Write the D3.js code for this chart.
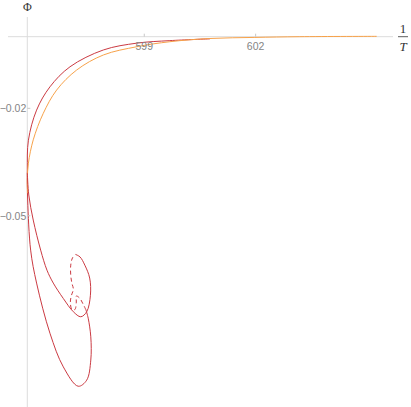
<!DOCTYPE html>
<html>
<head>
<meta charset="utf-8">
<script src="https://cdn.jsdelivr.net/npm/d3@7"></script>
<style>
  body { margin: 0; background: #fff; }
  svg { display: block; }
</style>
</head>
<body>
<script>
var width = 411;
var height = 407;

// data: [1/T, Phi]
var orangeCurve = [
  [605.26, 0.0001], [603.19, 0.0000], [601.98, -0.0002], [600.77, -0.0005],
  [599.69, -0.0014], [598.80, -0.0028], [597.90, -0.0051], [597.18, -0.0093],
  [596.64, -0.0149], [596.28, -0.0214], [596.01, -0.0288], [595.88, -0.0353],
  [595.85, -0.0400], [595.86, -0.0437]
];
var redOuter = [
  [600.77, -0.0006], [599.69, -0.0011], [598.80, -0.0018], [597.90, -0.0037],
  [597.00, -0.0084], [596.46, -0.0140], [596.10, -0.0205], [595.88, -0.0289],
  [595.85, -0.0372], [595.86, -0.0456], [595.94, -0.0596], [596.10, -0.0688],
  [596.46, -0.0828], [596.82, -0.0922], [597.22, -0.0976], [597.45, -0.0959],
  [597.56, -0.0903], [597.56, -0.0838], [597.49, -0.0786], [597.43, -0.0763]
];
var redDashed = [
  [597.43, -0.0763], [597.36, -0.0748], [597.26, -0.0730], [597.17, -0.0724],
  [597.17, -0.0741], [597.13, -0.0762], [597.05, -0.0761], [597.01, -0.0741],
  [597.04, -0.0722], [597.09, -0.0705], [597.05, -0.0688], [597.02, -0.0666],
  [597.02, -0.0638], [597.07, -0.0617], [597.15, -0.0608]
];
var redInner = [
  [597.15, -0.0608], [597.27, -0.0615], [597.40, -0.0638], [597.53, -0.0674],
  [597.55, -0.0722], [597.45, -0.0768], [597.29, -0.0782], [597.09, -0.0768],
  [596.82, -0.0731], [596.55, -0.0688], [596.38, -0.0652], [596.21, -0.0596],
  [596.01, -0.0512], [595.89, -0.0442], [595.85, -0.0380]
];
var xTicks = [599, 602];
var yTicks = [-0.02, -0.05];
var xDomain = [595.33, 605.70];
var yDomain = [0.0055, -0.1034];

var svg = d3.select("body").append("svg")
  .attr("width", width)
  .attr("height", height);

var x = d3.scaleLinear().domain(xDomain).range([8, 393]);
var y = d3.scaleLinear().domain(yDomain).range([17, 407]);
var x0 = x(595.85);
var y0 = y(0);

// axes
svg.append("line")
  .attr("x1", x(xDomain[0])).attr("x2", x(xDomain[1]))
  .attr("y1", y0).attr("y2", y0)
  .attr("stroke", "#dcdcdc").attr("stroke-width", 1);
svg.append("line")
  .attr("x1", x0).attr("x2", x0)
  .attr("y1", y(yDomain[0])).attr("y2", y(yDomain[1]))
  .attr("stroke", "#dcdcdc").attr("stroke-width", 1);

// curves
var line = d3.line()
  .x(function(d){ return x(d[0]); })
  .y(function(d){ return y(d[1]); })
  .curve(d3.curveCatmullRom.alpha(0.5));

svg.append("path").attr("d", line(redOuter))
  .attr("fill", "none").attr("stroke", "#cb3a42").attr("stroke-width", 1);
svg.append("path").attr("d", line(orangeCurve))
  .attr("fill", "none").attr("stroke", "#f7a24a").attr("stroke-width", 1);
svg.append("path").attr("d", line(redInner))
  .attr("fill", "none").attr("stroke", "#cb3a42").attr("stroke-width", 1);
svg.append("path").attr("d", line(redDashed))
  .attr("fill", "none").attr("stroke", "#cb3a42").attr("stroke-width", 1)
  .attr("stroke-dasharray", "4,3");

// ticks and labels on top
xTicks.forEach(function(t){
  svg.append("line")
    .attr("x1", x(t)).attr("x2", x(t))
    .attr("y1", y0 - 3).attr("y2", y0)
    .attr("stroke", "#c8c8c8");
  svg.append("text")
    .attr("x", x(t)).attr("y", y0 + 13)
    .attr("text-anchor", "middle")
    .attr("font-family", "Liberation Sans, Arial, sans-serif")
    .attr("font-size", 10.5)
    .attr("fill", "#858585")
    .text(d3.format("d")(t));
});
yTicks.forEach(function(t){
  svg.append("line")
    .attr("x1", x0).attr("x2", x0 + 3)
    .attr("y1", y(t)).attr("y2", y(t))
    .attr("stroke", "#c8c8c8");
  svg.append("text")
    .attr("x", x0 - 1).attr("y", y(t) + 4)
    .attr("text-anchor", "end")
    .attr("font-family", "Liberation Sans, Arial, sans-serif")
    .attr("font-size", 10.5)
    .attr("fill", "#858585")
    .text(d3.format(".2f")(t).replace("-", "\u2212\u2009"));
});

// axis labels
svg.append("text")
  .attr("x", x0).attr("y", 11)
  .attr("text-anchor", "middle")
  .attr("font-family", "Liberation Serif, serif")
  .attr("font-size", 12)
  .attr("fill", "#333")
  .text("Φ");
var lab = svg.append("g").attr("transform", "translate(403," + y0 + ")");
lab.append("text").attr("y", -4).attr("text-anchor", "middle")
  .attr("font-family", "Liberation Serif, serif").attr("font-size", 13)
  .attr("fill", "#333").text("1");
lab.append("line").attr("x1", -5).attr("x2", 5).attr("y1", 0).attr("y2", 0)
  .attr("stroke", "#333").attr("stroke-width", 0.8);
lab.append("text").attr("y", 14).attr("text-anchor", "middle")
  .attr("font-family", "Liberation Serif, serif").attr("font-size", 13)
  .attr("font-style", "italic")
  .attr("fill", "#333").text("T");
</script>
</body>
</html>
